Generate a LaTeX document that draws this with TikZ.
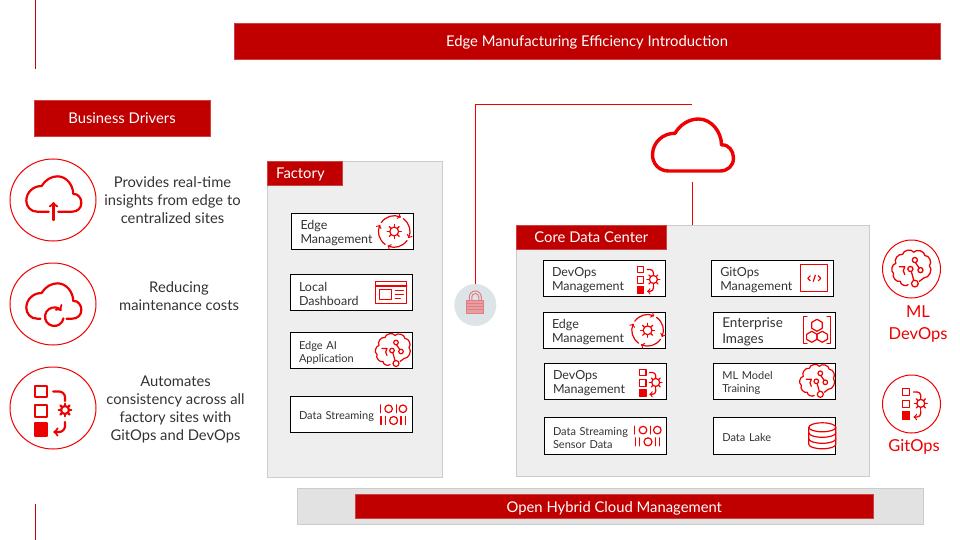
\documentclass[tikz,border=0pt]{standalone}
\usepackage{fontspec}
\setmainfont{Lato}
\usetikzlibrary{positioning,shapes.geometric}
\definecolor{rhdark}{HTML}{C00000}
\definecolor{rhred}{HTML}{EE0000}
\definecolor{panelgray}{HTML}{EEEEEE}
\definecolor{bargray}{HTML}{E2E2E2}
\definecolor{edgegray}{HTML}{CCCCCC}
\definecolor{lockgray}{HTML}{DDE4E8}
\definecolor{inkgray}{HTML}{333333}
\tikzset{
  every node/.style={outer sep=0pt},
  redbar/.style   ={rectangle, fill=rhdark, draw=rhdark!75!white, line width=0.6pt, text=white, inner sep=0pt,
                    text height=10pt, text depth=0pt, font=\fontsize{14.8}{17}\selectfont},
  headbar/.style  ={redbar, text height=12pt},
  panelbox/.style ={rectangle, fill=panelgray, draw=edgegray, line width=1pt, anchor=north west, inner sep=0pt},
  cardbox/.style  ={rectangle, draw=black, fill=white, line width=1pt, minimum height=36pt, text width=104pt,
                    inner xsep=9pt, inner ysep=0pt, align=left, text=inkgray, text height=12pt,
                    font=\fontsize{12.5}{14}\selectfont},
  cardsmall/.style={cardbox, font=\fontsize{11}{13}\selectfont},
  driverring/.style={ellipse, draw=rhred, line width=1pt, minimum width=86pt, minimum height=82pt, inner sep=0pt},
  sidering/.style ={circle, draw=rhred, line width=1pt, minimum size=58pt, inner sep=0pt},
  drivertext/.style={align=center, text=inkgray, font=\fontsize{14.75}{18}\selectfont},
  sidetext/.style ={align=center, text=rhred, font=\fontsize{16.5}{21.5}\selectfont},
  redline/.style  ={draw=rhred, line width=1pt},
  darkline/.style ={draw=rhdark, line width=1pt},
  iconstroke/.style={draw=rhred, y=1pt, line cap=round, line join=round},
  lockstroke/.style={draw=rhred!45!lockgray, y=1pt, line width=1pt},
  cardicon/.style ={line width=1.2pt},
  listicon/.style ={scale=0.54, line width=1.2pt},
  bigicon/.style  ={line width=2.2pt},
  pics/gearshape/.style={code={
    \draw[iconstroke] (0,0) circle (4);
    \foreach \a in {0,45,...,315} \draw[iconstroke] (\a:4) -- (\a:6.4);
  }},
  pics/cloudicon/.style={code={
    \draw[iconstroke] (#1,-26) -- (27.5,-26) .. controls (35,-26) and (41,-21) .. (41,-13)
      .. controls (41,-6) and (36,1) .. (29,0) .. controls (29,13) and (19,26) .. (6,26)
      .. controls (-3,26) and (-12,21) .. (-17.5,11.7) .. controls (-29,12) and (-40,3) .. (-40,-10)
      .. controls (-40,-18) and (-34,-26) .. (-24,-26) -- (-#1,-26);
  }},
  pics/uploadcloud/.style={code={
    \pic[scale=0.68] {cloudicon=7};
    \draw[iconstroke, ->, >=to] (0,-26) -- (0,-8);
  }},
  pics/refreshcloud/.style={code={
    \pic[scale=0.68] {cloudicon=19};
    \draw[iconstroke, ->, >=to] (0.8,-15.7) ++(-10:9.3) arc[start angle=-10, delta angle=-310, radius=9.3];
  }},
  pics/devopsicon/.style={code={
    \draw[iconstroke] (-15,14) rectangle (-3,25);
    \draw[iconstroke] (-15,-6) rectangle (-3,6);
    \draw[iconstroke, fill=rhred] (-15,-25) rectangle (-3,-12);
    \draw[iconstroke] (3.3,19.5) -- (9,19.5) arc[start angle=90, end angle=0, radius=6] -- (15,10);
    \pic at (15,-1) {gearshape};
    \draw[iconstroke, ->, >=to] (15,-11) -- (15,-15) arc[start angle=0, end angle=-90, radius=6] -- (3.3,-21);
  }},
  pics/gearloop/.style={code={
    \pic[scale=1.1] {gearshape};
    \foreach \a in {0,90,180,270}
      \draw[iconstroke, ->, >=to] (\a+55:15.7) arc[start angle=\a+55, delta angle=-80, radius=15.7];
  }},
  pics/dashicon/.style={code={
    \draw[iconstroke] (-15.5,-11) rectangle (15.5,11);
    \draw[iconstroke] (-15.5,6.5) -- (15.5,6.5);
    \draw[iconstroke] (-11.5,-7) rectangle (0,3);
    \draw[iconstroke] (4,2) -- (12,2);
    \draw[iconstroke] (4,-2) -- (12,-2);
    \draw[iconstroke] (4,-6) -- (9,-6);
  }},
  pics/brainicon/.style={code={
    \draw[iconstroke] (-3,-14) to[bend left=70] (-10,-11) to[bend left=70] (-16,-4) to[bend left=70] (-14,5)
      to[bend left=70] (-8,13) to[bend left=70] (2,15) to[bend left=70] (12,12) to[bend left=70] (16,3)
      to[bend left=70] (11,-8) -- (7,-11);
    \draw[iconstroke] (-11,2) -- (-6,2) to[bend right=40] (-6,-5);
    \draw[iconstroke] (3,8) circle (2.3) (-1,0) circle (2.3) (8,-1) circle (2.3) (3,-13) circle (3);
    \draw[iconstroke] (3.5,5.7) -- (6.8,1) (-0.2,-2.2) -- (2,-10);
  }},
  pics/binaryicon/.style={code={
    \foreach \x in {-12.3,3.7} \draw[iconstroke] (\x,1.7) -- (\x,9.7);
    \foreach \x in {-4,10.3} \draw[iconstroke] (\x,5.7) circle (3.8);
    \foreach \x in {-11.7,-7.3,8.3,12.7} \draw[iconstroke] (\x,-10) -- (\x,-2);
    \draw[iconstroke] (1,-6) circle (4);
  }},
  pics/codeicon/.style={code={
    \draw[iconstroke] (-13.5,-13.5) rectangle (13.5,13.5);
    \draw[iconstroke] (-4,2.5) -- (-6.5,0) -- (-4,-2.5);
    \draw[iconstroke] (4,2.5) -- (6.5,0) -- (4,-2.5);
    \draw[iconstroke] (1,3) -- (-1,-3);
  }},
  pics/hexicon/.style={code={
    \draw[iconstroke] (-10,13.5) -- (-13.5,13.5) -- (-13.5,-13.5) -- (-10,-13.5);
    \draw[iconstroke] (10,13.5) -- (13.5,13.5) -- (13.5,-13.5) -- (10,-13.5);
    \draw[iconstroke] (0,11) -- (5.2,8) -- (5.2,2) -- (0,-1) -- (-5.2,2) -- (-5.2,8) -- cycle;
    \draw[iconstroke] (-5.2,-1) -- (0,-4) -- (0,-9) -- (-5.2,-12) -- (-10.4,-9) -- (-10.4,-4) -- cycle;
    \draw[iconstroke] (5.2,-1) -- (10.4,-4) -- (10.4,-9) -- (5.2,-12) -- (0,-9) -- (0,-4) -- cycle;
  }},
  pics/diskicon/.style={code={
    \draw[iconstroke] (0,8.5) circle[x radius=13.5, y radius=4.5];
    \draw[iconstroke] (-13.5,8.5) -- (-13.5,-8.5) arc[start angle=180, end angle=360, x radius=13.5, y radius=4.5] -- (13.5,8.5);
    \draw[iconstroke] (-13.5,3) arc[start angle=180, end angle=360, x radius=13.5, y radius=4.5];
    \draw[iconstroke] (-13.5,-3) arc[start angle=180, end angle=360, x radius=13.5, y radius=4.5];
  }},
  pics/lockicon/.style={code={
    \draw[lockstroke] (-6,5) -- (-6,8) arc[start angle=180, end angle=0, radius=6] -- (6,5);
    \draw[lockstroke] (-3.5,5) -- (-3.5,8) arc[start angle=180, end angle=0, radius=3.5] -- (3.5,5);
    \draw[lockstroke, fill=rhred!30!lockgray] (-8.5,-8) rectangle (8.5,5);
    \foreach \y in {-4,-1,2} \draw[lockstroke, line width=0.5pt] (-8.5,\y) -- (8.5,\y);
  }},
}
\begin{document}
\begin{tikzpicture}[x=1pt, y=-1pt]
  \useasboundingbox (0,0) rectangle (960,540);
  % side rules
  \coordinate (ruletop) at (35.5,0);
  \coordinate (ruleend) at (35.5,69);
  \coordinate (rulelow) at (35.5,504);
  \coordinate (rulebot) at (35.5,540);
  \draw[darkline] (ruletop) -- (ruleend);
  \draw[darkline] (rulelow) -- (rulebot);
  % heading bars
  \node[headbar, minimum width=706pt, minimum height=36pt] (title) at (587,41) {Edge Manufacturing Efficiency Introduction};
  \node[headbar, minimum width=176pt, minimum height=36pt] (drivers) at (122,118) {Business Drivers};
  % business drivers
  \node[driverring] (ringa) at (53,200) {};
  \node[driverring, below=22pt of ringa] (ringb) {};
  \node[driverring, below=22pt of ringb] (ringc) {};
  \pic[bigicon] at (53.5,194) {uploadcloud};
  \pic[bigicon] at (53.5,301) {refreshcloud};
  \pic[bigicon] at (50,411) {devopsicon};
  \node[drivertext] (texta) at (172.5,200) {Provides real-time\\insights from edge to\\centralized sites};
  \node[drivertext] (textb) at (179,296) {Reducing\\maintenance costs};
  \node[drivertext] (textc) at (175.5,409.3) {Automates\\consistency across all\\factory sites with\\GitOps and DevOps};
  % factory
  \node[panelbox, minimum width=175.5pt, minimum height=316pt] (factory) at (267.2,161.5) {};
  \node[redbar, anchor=north west, minimum width=75pt, minimum height=24pt, text width=57pt, inner xsep=9pt, align=left] (factorytag) at (factory.north west) {Factory};
  \node[cardbox] (fedge) at (352.5,231.5) {Edge\\Management};
  \node[cardbox, below=25pt of fedge, xshift=-1.5pt] (flocal) {Local\\Dashboard};
  \node[cardsmall, below=22pt of flocal] (fai) {Edge AI\\Application};
  \node[cardsmall, below=28pt of fai] (fstream) {Data Streaming};
  \pic[cardicon] at ([xshift=-19.3pt]fedge.east) {gearloop};
  \pic[cardicon] at ([xshift=-20.7pt]flocal.east) {dashicon};
  \pic[cardicon] at ([xshift=-19pt]fai.east) {brainicon};
  \pic[cardicon] at ([xshift=-19.4pt]fstream.east) {binaryicon};
  % core data center
  \node[panelbox, minimum width=353.5pt, minimum height=251.5pt] (core) at (516,225) {};
  \node[redbar, anchor=north west, minimum width=150.7pt, minimum height=24.5pt] (coretag) at (core.north west) {Core Data Center};
  \node[cardbox] (cdevops) at (604,278.3) {DevOps\\Management};
  \node[cardbox, below=16pt of cdevops] (cedge) {Edge\\Management};
  \node[cardbox, below=15pt of cedge, xshift=1pt] (cdevopsb) {DevOps\\Management};
  \node[cardsmall, below=18pt of cdevopsb, minimum height=37pt] (cstream) {Data Streaming\\Sensor Data};
  \node[cardbox] (cgit) at (772.3,278.3) {GitOps\\Management};
  \node[cardbox, below=16pt of cgit, xshift=2pt, font=\fontsize{13.5}{16}\selectfont] (cimages) {Enterprise\\Images};
  \node[cardsmall, below=15pt of cimages] (cml) {ML Model\\Training};
  \node[cardsmall, below=18pt of cml, minimum height=37pt] (clake) {Data Lake};
  \pic[listicon] at ([xshift=-19.7pt,yshift=-1.7pt]cdevops.east) {devopsicon};
  \pic[cardicon] at ([xshift=-17.4pt]cedge.east) {gearloop};
  \pic[listicon] at ([xshift=-18.4pt,yshift=-1.7pt]cdevopsb.east) {devopsicon};
  \pic[cardicon] at ([xshift=-19pt]cstream.east) {binaryicon};
  \pic[cardicon] at ([xshift=-19pt]cgit.east) {codeicon};
  \pic[cardicon] at ([xshift=-18.3pt]cimages.east) {hexicon};
  \pic[cardicon] at ([xshift=-18pt]cml.east) {brainicon};
  \pic[cardicon] at ([xshift=-13pt]clake.east) {diskicon};
  % cloud and lock
  \node[circle, fill=lockgray, minimum size=42pt, inner sep=0pt] (lock) at (475.3,305) {};
  \pic at (lock.center) {lockicon};
  \coordinate (cloudtail) at (692,105);
  \coordinate (cloudfoot) at (692,182);
  \draw[redline] (lock) |- (cloudtail);
  \draw[redline] (cloudfoot) -- (core.north -| cloudfoot);
  \pic[line width=3.4pt] at (692.5,145) {cloudicon=0};
  % side roles
  \node[sidering] (mlring) at (911.5,269) {};
  \node[sidering, below=77pt of mlring] (gitring) {};
  \pic[scale=1.12, line width=1.3pt] at (mlring.center) {brainicon};
  \pic[scale=0.62, line width=1.3pt] at (gitring.center) {devopsicon};
  \node[sidetext, below=4.5pt of mlring, xshift=6.5pt] (mltext) {ML\\DevOps};
  \node[sidetext, below=3.5pt of gitring, xshift=2.5pt] (gittext) {GitOps};
  % bottom bar
  \node[rectangle, fill=bargray, draw=edgegray, line width=1pt, minimum width=626.4pt, minimum height=36pt, inner sep=0pt] (hybrid) at (610.5,506.3) {};
  \node[headbar, minimum width=518.7pt, minimum height=24.4pt] (hybridtag) at (614.3,506.5) {Open Hybrid Cloud Management};
\end{tikzpicture}
\end{document}
